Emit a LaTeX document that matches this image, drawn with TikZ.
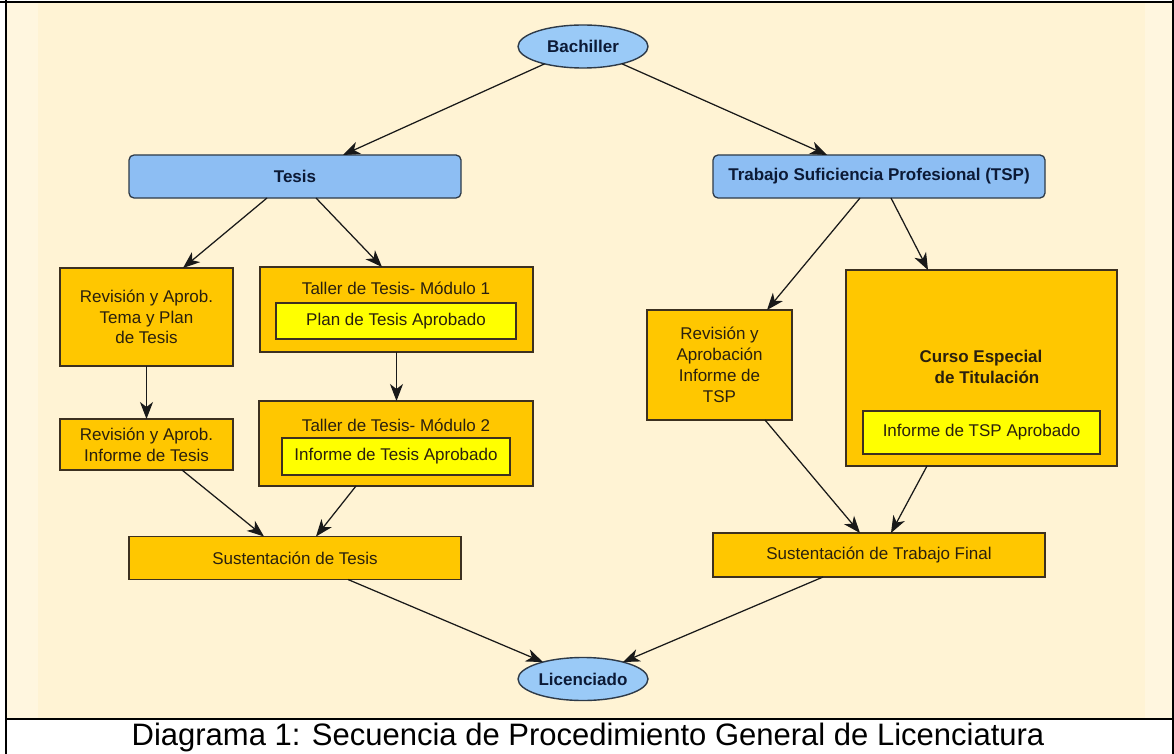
\documentclass[tikz,border=0pt]{standalone}
\usepackage{fontspec}
\setmainfont{Liberation Sans}
\usetikzlibrary{arrows.meta,shapes.geometric}
\definecolor{cream}{HTML}{FFF3D4}
\definecolor{creamedge}{HTML}{FFF6DF}
\definecolor{boxblue}{HTML}{8DBEF3}
\definecolor{ellblue}{HTML}{9ACAF7}
\definecolor{gold}{HTML}{FFC700}
\definecolor{lemon}{HTML}{FFFF00}
\definecolor{bord}{HTML}{3C3020}
\definecolor{bluebord}{HTML}{2E3A48}
\definecolor{navy}{HTML}{0C1A36}
\definecolor{darktext}{HTML}{2A200E}
\begin{document}
\begin{tikzpicture}[x=1pt,y=-1pt,
  every node/.style={inner sep=0pt, outer sep=0pt},
  bluebox/.style={draw=bluebord, line width=1.3pt, fill=boxblue, rounded corners=5pt,
    font=\fontsize{17}{20}\selectfont\bfseries, text=navy},
  oval/.style={ellipse, draw=bluebord, line width=1.4pt, fill=ellblue,
    font=\fontsize{17}{20}\selectfont\bfseries, text=navy, minimum width=130pt, minimum height=43pt},
  goldbox/.style={draw=bord, line width=1.3pt, fill=gold, font=\fontsize{17}{20.8}\selectfont,
    text=darktext, align=center},
  lemonbox/.style={draw=bord, line width=1.3pt, fill=lemon, font=\fontsize{17}{20.8}\selectfont,
    text=darktext, align=center},
  txt/.style={font=\fontsize{17}{20.8}\selectfont, text=darktext, align=center},
  conn/.style={draw=black!90, line width=1.25pt, -{Stealth[length=17pt,width=13pt,inset=5pt]}},
]
\useasboundingbox (0,0) rectangle (1174,754);
% background cell
\fill[white] (0,0) rectangle (1174,754);
\fill[creamedge] (6,2) rectangle (1173,719);
\fill[cream] (38,3) rectangle (1145,718);
% frame
\draw[black, line width=2.5pt] (0,1.8) -- (1174,1.8);
\draw[black, line width=2pt] (6,0) -- (6,754);
\draw[black, line width=2.5pt] (6,719) -- (1174,719);
\draw[black, line width=2pt] (1173,0) -- (1173,754);

% nodes
\node[oval] (bach) at (583,46.5) {Bachiller};
\node[bluebox, minimum width=332pt, minimum height=43pt] (tesis) at (295,176.5) {Tesis};
\node[bluebox, minimum width=332pt, minimum height=43pt] (tsp) at (879,176.5) {Trabajo Suficiencia Profesional (TSP)};

\node[goldbox, minimum width=173pt, minimum height=98pt] (revtema) at (146.5,317) {Revisión y Aprob.\\Tema y Plan\\de Tesis};
\node[goldbox, minimum width=273pt, minimum height=85pt] (taller1) at (396.5,309.5) {};
\node[txt] (t1title) at (396,288) {Taller de Tesis- Módulo 1};
\node[lemonbox, minimum width=240pt, minimum height=36pt] (plan) at (396,321) {Plan de Tesis Aprobado};

\node[goldbox, minimum width=173pt, minimum height=51pt] (revinf) at (146.5,444.5) {Revisión y Aprob.\\Informe de Tesis};
\node[goldbox, minimum width=274pt, minimum height=85pt] (taller2) at (396,443.5) {};
\node[txt] (t2title) at (396,425) {Taller de Tesis- Módulo 2};
\node[lemonbox, minimum width=228pt, minimum height=37pt] (inftesis) at (396,456.5) {Informe de Tesis Aprobado};

\node[goldbox, minimum width=332pt, minimum height=43pt] (sust1) at (295,558) {Sustentación de Tesis};

\node[goldbox, minimum width=145pt, minimum height=110pt] (revtsp) at (719.5,365) {Revisión y\\Aprobación\\Informe de\\TSP};
\node[goldbox, minimum width=271pt, minimum height=196pt] (curso) at (981.5,368) {};
\node[txt, font=\fontsize{17}{21}\selectfont\bfseries] (cursotitle) at (981,367) {Curso Especial\\\hspace*{12pt}de Titulación};
\node[lemonbox, minimum width=237pt, minimum height=43pt] (inftsp) at (981.5,432.5) {Informe de TSP Aprobado};

\node[goldbox, minimum width=332pt, minimum height=44pt] (sust2) at (879,555) {Sustentación de Trabajo Final};

\node[oval] (lic) at (583,679) {Licenciado};

% connectors
\draw[conn] (bach) -- ([xshift=48pt]tesis.north);
\draw[conn] (bach) -- ([xshift=-52pt]tsp.north);
\draw[conn] ([xshift=-28pt]tesis.south) -- ([xshift=36.5pt]revtema.north);
\draw[conn] ([xshift=21pt]tesis.south) -- ([xshift=-14.5pt]taller1.north);
\draw[conn] (revtema.south) -- (revinf.north);
\draw[conn] (taller1.south) -- (taller1.south |- taller2.north);
\draw[conn] ([xshift=35.5pt]revinf.south) -- ([xshift=-31pt]sust1.north);
\draw[conn] ([xshift=-40pt]taller2.south) -- ([xshift=21pt]sust1.north);
\draw[conn] ([xshift=53pt]sust1.south) -- (lic);
\draw[conn] ([xshift=-19pt]tsp.south) -- ([xshift=47.5pt]revtsp.north);
\draw[conn] ([xshift=12pt]tsp.south) -- ([xshift=-53.5pt]curso.north);
\draw[conn] ([xshift=45.5pt]revtsp.south) -- ([xshift=-19pt]sust2.north);
\draw[conn] ([xshift=-54.5pt]curso.south) -- ([xshift=12pt]sust2.north);
\draw[conn] ([xshift=-56pt]sust2.south) -- (lic);

% caption
\node[font=\fontsize{31}{31}\selectfont, text=black] (caption) at (588,737) {Diagrama 1: Secuencia de Procedimiento General de Licenciatura};
\end{tikzpicture}
\end{document}
